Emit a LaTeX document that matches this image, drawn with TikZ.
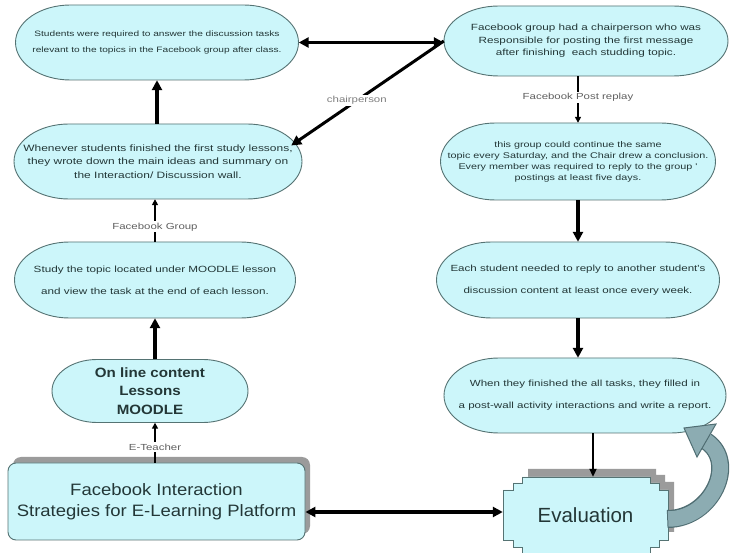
\documentclass[tikz,border=0pt]{standalone}
\usepackage{fontspec}
\setmainfont{Liberation Sans}
\newfontfamily\nf[FakeStretch=1.3]{Liberation Sans}
\newfontfamily\wf[FakeStretch=1.12]{Liberation Sans}
\usetikzlibrary{arrows.meta,calc}
\definecolor{cyanfill}{RGB}{204,246,250}
\definecolor{edgecol}{RGB}{85,115,115}
\definecolor{txtcol}{RGB}{35,55,55}
\definecolor{labcol}{RGB}{95,95,95}
\definecolor{shadowcol}{RGB}{155,155,155}
\definecolor{curvefill}{RGB}{140,172,178}
\definecolor{curveedge}{RGB}{80,110,115}
\newcommand\mypill[5]{% cx cy w h rx
 \filldraw[fill=cyanfill, draw=edgecol, line width=0.9pt]
  ({#1-#3/2+#5},{#2-#4/2}) -- ({#1+#3/2-#5},{#2-#4/2})
  .. controls ({#1+#3/2-#5+0.552*#5},{#2-#4/2}) and ({#1+#3/2},{#2-0.552*#4/2}) .. ({#1+#3/2},#2)
  .. controls ({#1+#3/2},{#2+0.552*#4/2}) and ({#1+#3/2-#5+0.552*#5},{#2+#4/2}) .. ({#1+#3/2-#5},{#2+#4/2})
  -- ({#1-#3/2+#5},{#2+#4/2})
  .. controls ({#1-#3/2+#5-0.552*#5},{#2+#4/2}) and ({#1-#3/2},{#2+0.552*#4/2}) .. ({#1-#3/2},#2)
  .. controls ({#1-#3/2},{#2-0.552*#4/2}) and ({#1-#3/2+#5-0.552*#5},{#2-#4/2}) .. cycle;}
\tikzset{
 txt/.style={align=center, inner sep=0pt, text=txtcol},
 lab/.style={font=\nf\fontsize{8.8}{11}\selectfont, text=labcol, fill=white, inner sep=1.5pt},
 thickarr/.style={line width=3.2pt, -{Triangle[length=10pt,width=10pt]}},
 dblarr/.style={line width=3.2pt, {Triangle[length=10pt,width=10pt]}-{Triangle[length=10pt,width=10pt]}},
 midarr/.style={line width=2pt, -{Triangle[length=8pt,width=7pt]}},
 thinarr/.style={line width=1.6pt, -{Triangle[length=6pt,width=6pt]}},
}
\begin{document}
\begin{tikzpicture}[x=1pt,y=-1pt]
\useasboundingbox (0,0) rectangle (732,553);
\fill[white] (0,0) rectangle (732,553);
% left column
\mypill{157}{42.5}{283}{75}{55}
\node[txt, minimum width=283pt, minimum height=75pt, font=\nf\fontsize{7.8}{16}\selectfont] (A) at (157,42.5)
 {Students were required to answer the discussion tasks\\relevant to the topics in the Facebook group after class.};
\mypill{158}{161.5}{288}{75}{55}
\node[txt, minimum width=288pt, minimum height=75pt, font=\nf\fontsize{9.2}{13.5}\selectfont] (B) at (158,161.5)
 {Whenever students finished the first study lessons,\\they wrote down the main ideas and summary on\\the Interaction/ Discussion wall.};
\mypill{155}{280}{281}{76}{55}
\node[txt, minimum width=281pt, minimum height=76pt, font=\nf\fontsize{9.0}{22}\selectfont] (C) at (155,280)
 {Study the topic located under MOODLE lesson\\and view the task at the end of each lesson.};
\mypill{150}{391}{196}{63}{45}
\node[txt, minimum width=196pt, minimum height=63pt, font=\wf\bfseries\fontsize{13.5}{18.5}\selectfont] (D) at (150,391)
 {On line content\\Lessons\\MOODLE};
\fill[shadowcol, rounded corners=8pt] (13,457) rectangle (310,534);
\node[txt, draw=edgecol, fill=cyanfill, rounded corners=8pt, line width=0.9pt, minimum width=297pt, minimum height=77pt, font=\wf\fontsize{16.5}{21}\selectfont] (E) at (156.5,501.5)
 {Facebook Interaction\\Strategies for E-Learning Platform};
% right column
\mypill{586}{41}{284}{70}{55}
\node[txt, minimum width=284pt, minimum height=70pt, font=\nf\fontsize{9.0}{12.5}\selectfont] (F) at (586,41)
 {Facebook group had a chairperson who was\\Responsible for posting the first message\\after finishing\ \ each studding topic.};
\mypill{578}{161.5}{275}{77}{55}
\node[txt, minimum width=275pt, minimum height=77pt, font=\nf\fontsize{8.3}{11}\selectfont] (G) at (578,161.5)
 {this group could continue the same\\topic every Saturday, and the Chair drew a conclusion.\\Every member was required to reply to the group '\\postings at least five days.};
\mypill{578}{280}{283}{76}{55}
\node[txt, minimum width=283pt, minimum height=76pt, font=\nf\fontsize{8.9}{22}\selectfont] (H) at (578,280)
 {Each student needed to reply to another student's\\discussion content at least once every week.};
\mypill{585}{395.5}{282}{75}{55}
\node[txt, minimum width=282pt, minimum height=75pt, font=\nf\fontsize{8.9}{22}\selectfont] (I) at (585,395.5)
 {When they finished the all tasks, they filled in\\a post-wall activity interactions and write a report.};
% evaluation
\fill[shadowcol] (528,469) -- (656,469) -- (656,475) -- (665,475) -- (665,482) -- (674,482) -- (674,532) -- (528,532) -- cycle;
\filldraw[fill=cyanfill, draw=edgecol, line width=0.9pt]
 (522,477) -- (650,477) -- (650,483) -- (659,483) -- (659,490) -- (668,490) -- (668,540) -- (659,540) -- (659,547) -- (650,547) -- (650,554)
 -- (522,554) -- (522,547) -- (513,547) -- (513,540) -- (503,540) -- (503,490) -- (513,490) -- (513,483) -- (522,483) -- cycle;
\node[txt, minimum width=165pt, minimum height=76pt, font=\fontsize{20.5}{24}\selectfont] (ev) at (585.5,515) {Evaluation};
% connectors
\draw[dblarr] (A.east) -- (A.east -| F.west);
\draw[line width=3pt, -{Triangle[length=10pt,width=10pt]}] (F.west) -- node[lab, text=labcol!80, pos=0.57]{chairperson} ($(B.east)+(-11,-16)$);
\draw[thickarr] (B.north -| A.south) -- (A.south);
\draw[thinarr] (C.north) -- node[lab, pos=0.35]{Facebook Group} (C.north |- B.south);
\draw[thickarr] (D.north -| C.south) -- (C.south);
\draw[thinarr] (E.north -| C.south) -- node[lab, pos=0.39]{E-Teacher} (D.south -| C.south);
\draw[thinarr] (F.south -| G.north) -- node[lab, pos=0.45]{Facebook Post replay} (G.north);
\draw[thickarr] (G.south) -- (H.north);
\draw[thickarr] (H.south) -- (H.south |- I.north);
\coordinate (ia) at ($(I.south)+(8,0)$);
\draw[midarr] (ia) -- (ia |- ev.north);
\coordinate (eline) at ($(E.east)+(0,10.5)$);
\draw[dblarr] (eline) -- (eline -| ev.west);
% curved return arrow
\coordinate (cs) at ($(ev.east)+(-1,4)$);
\draw[line width=18pt, draw=curveedge] (cs) .. controls (712,519) and (738,462) .. (706,441);
\draw[line width=15.5pt, draw=curvefill] ($(cs)+(1,0)$) .. controls (712,519) and (738,462) .. (706,441);
\filldraw[fill=curvefill, draw=curveedge, line width=1pt] (684,428) -- (716,424) -- (697,457) -- cycle;
\end{tikzpicture}
\end{document}
